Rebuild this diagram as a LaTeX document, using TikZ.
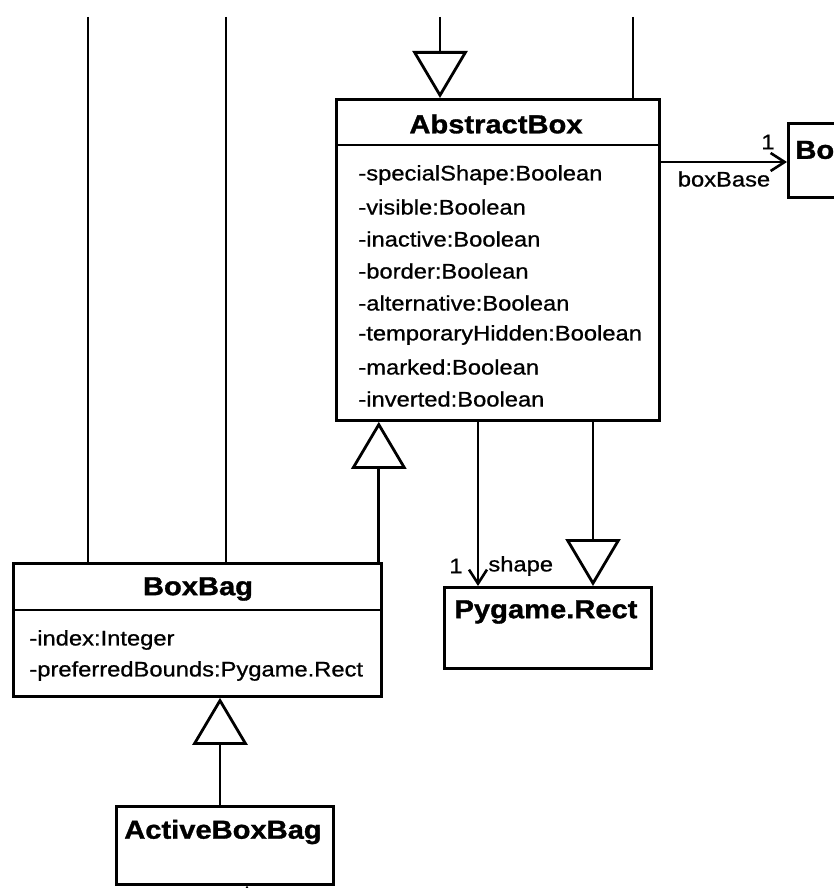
\documentclass[tikz,border=0pt]{standalone}
\usepackage{fontspec}
\setmainfont{Liberation Sans}
\newfontfamily\attrfont[FakeStretch=1.13, FakeBold=0.8]{Liberation Sans}
\newfontfamily\clsfont[FakeStretch=1.12, FakeBold=1.2]{Liberation Sans}
\usetikzlibrary{arrows.meta}

\begin{document}
\begin{tikzpicture}[x=1pt, y=-1pt, line width=2.8pt,
  classbox/.style={draw, line width=2.8pt, anchor=north west, inner sep=0pt, fill=white},
  clsname/.style={font=\clsfont\bfseries\fontsize{26}{28}\selectfont, inner sep=0pt},
  attr/.style={font=\attrfont\fontsize{21}{24}\selectfont, anchor=west, inner sep=0pt},
  role/.style={font=\attrfont\fontsize{21}{24}\selectfont, inner sep=0pt},
  gen/.style={-{Triangle[open, length=47pt, width=55pt, line width=2.8pt]}},
  assoc/.style={-{Straight Barb[length=14pt, width=18pt, line width=2.6pt]}}]

% page frame
\useasboundingbox (0,0) rectangle (834,888);

% ---------- AbstractBox ----------
\node[classbox, minimum width=323pt, minimum height=321pt] (abs) at (335,98) {};
\draw (335,145) -- (658,145);
\node[clsname] (absname) at (496,124) {AbstractBox};
\node[attr] (a1) at (357,175) {-specialShape:Boolean};
\node[attr] (a2) at (357,207) {-visible:Boolean};
\node[attr] (a3) at (357,239) {-inactive:Boolean};
\node[attr] (a4) at (357,271) {-border:Boolean};
\node[attr] (a5) at (357,303) {-alternative:Boolean};
\node[attr] (a6) at (357,335) {-temporaryHidden:Boolean};
\node[attr] (a7) at (357,367) {-marked:Boolean};
\node[attr] (a8) at (357,399) {-inverted:Boolean};

% ---------- BoxBag ----------
\node[classbox, minimum width=368pt, minimum height=133pt] (bag) at (12,562) {};
\draw (12,610) -- (380,610);
\node[clsname] (bagname) at (198,589) {BoxBag};
\node[attr] (b1) at (28,640) {-index:Integer};
\node[attr] (b2) at (28,671) {-preferredBounds:Pygame.Rect};

% ---------- ActiveBoxBag ----------
\node[classbox, minimum width=217pt, minimum height=78pt] (act) at (115,805) {};
\node[clsname] (actname) at (223,832) {ActiveBoxBag};

% ---------- Pygame.Rect ----------
\node[classbox, minimum width=207pt, minimum height=81pt] (rect) at (443,586) {};
\node[clsname] (rectname) at (546,612) {Pygame.Rect};

% ---------- class on the right edge ----------
\node[classbox, minimum width=120pt, minimum height=74pt] (bo) at (787,122) {};
\node[clsname, anchor=west] (boname) at (794,150) {Bo};

% ---------- connectors entering from above ----------
\coordinate (t1) at (88,17);
\coordinate (t2) at (226,17);
\coordinate (t3) at (440,17);
\coordinate (t4) at (633,17);
\draw (t1) -- (t1 |- bag.north);
\draw (t2) -- (t2 |- bag.north);
\draw[gen] (t3) -- (t3 |- abs.north);
\draw (t4) -- (t4 |- abs.north);

% ---------- generalisations ----------
\draw[gen] ([xshift=-4pt]bag.north east) -- ([xshift=-4pt]bag.north east |- abs.south);
\draw[gen] (act.north -| 220,0) -- (bag.south -| 220,0);
\draw[gen] ([xshift=150pt]rect.north west |- abs.south) -- ([xshift=150pt]rect.north west);

% ---------- associations ----------
\draw[assoc] ([xshift=35pt]rect.north west |- abs.south) -- ([xshift=35pt]rect.north west);
\node[role] (m1) at (456,566) {1};
\node[role, anchor=west] (r1) at (487,566) {shape};

\draw[assoc] ([yshift=-64pt]abs.north east) -- ([yshift=-64pt]abs.north east -| bo.west);
\node[role] (m2) at (768,142) {1};
\node[role] (r2) at (724,179) {boxBase};

% ---------- association leaving below ----------
\coordinate (u1) at (247,900);
\draw[assoc] (u1) -- (u1 |- act.south);

\end{tikzpicture}
\end{document}
